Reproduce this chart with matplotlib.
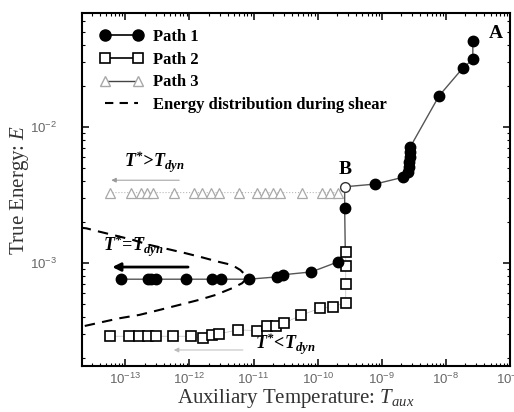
import numpy as np
import matplotlib
matplotlib.use("Agg")
import matplotlib.pyplot as plt
from matplotlib.lines import Line2D
from matplotlib.ticker import LogLocator, NullFormatter

# ── data ─────────────────────────────────────────────────────────────────────

# Path 1 (filled circles): low-T plateau, jump at T~2.6e-10 up to B, then on to A
p1_T = [8.6e-14, 2.22e-13, 2.5e-13, 3.0e-13, 8.7e-13, 2.25e-12, 3.05e-12, 8.4e-12,
        2.3e-11, 2.92e-11, 8.0e-11, 2.08e-10,
        2.64e-10,
        7.87e-10, 2.12e-9, 2.6e-9, 2.65e-9, 2.7e-9, 2.72e-9, 2.75e-9, 2.78e-9,
        7.85e-9, 1.85e-8, 2.64e-8, 2.64e-8]
p1_E = [7.6e-4, 7.6e-4, 7.6e-4, 7.6e-4, 7.6e-4, 7.6e-4, 7.6e-4, 7.6e-4,
        7.9e-4, 8.2e-4, 8.6e-4, 1.02e-3,
        2.52e-3,
        3.81e-3, 4.27e-3, 4.67e-3, 5.08e-3, 5.53e-3, 6.02e-3, 6.55e-3, 7.13e-3,
        1.70e-2, 2.73e-2, 3.15e-2, 4.31e-2]

# joint where path 1 turns upward (hidden under the squares) and the point B
joint_T, joint_E = 2.7e-10, 1.2e-3
B_T, B_E = 2.64e-10, 3.64e-3
A_T, A_E = 2.64e-8, 4.31e-2

# Path 2 (open squares)
p2_T = [5.85e-14, 1.15e-13, 1.61e-13, 2.22e-13, 2.99e-13, 5.54e-13, 1.04e-12,
        1.64e-12, 2.21e-12, 2.86e-12, 5.71e-12, 1.12e-11, 1.61e-11, 2.25e-11,
        3.03e-11, 5.41e-11, 1.08e-10, 1.74e-10, 2.74e-10, 2.74e-10, 2.74e-10,
        2.74e-10]
p2_E = [2.89e-4, 2.89e-4, 2.89e-4, 2.89e-4, 2.89e-4, 2.89e-4, 2.89e-4,
        2.79e-4, 2.93e-4, 3.01e-4, 3.22e-4, 3.18e-4, 3.41e-4, 3.41e-4,
        3.62e-4, 4.11e-4, 4.65e-4, 4.77e-4, 5.11e-4, 6.97e-4, 9.46e-4,
        1.20e-3]

# Path 3 (grey open triangles), flat at E ~ 3.3e-3 ending at B
p3_T = [5.65e-14, 1.22e-13, 1.75e-13, 2.14e-13, 2.65e-13, 5.75e-13, 1.17e-12,
        1.58e-12, 2.13e-12, 2.86e-12, 5.85e-12, 1.12e-11, 1.52e-11, 2.04e-11,
        2.59e-11, 5.61e-11, 1.15e-10, 1.55e-10, 2.08e-10]
p3_E = [3.3e-3] * len(p3_T)

# energy distribution during shear (dashed curve)
dist_T = [2.0e-14, 2.46e-14, 3.95e-14, 6.35e-14, 1.30e-13, 2.35e-13, 4.81e-13,
          8.73e-13, 1.58e-12, 2.86e-12, 4.61e-12, 6.22e-12, 7.43e-12, 7.87e-12,
          6.59e-12, 4.61e-12, 2.55e-12, 1.40e-12, 6.87e-13, 3.37e-13, 1.65e-13,
          8.07e-14, 3.95e-14, 2.31e-14, 2.0e-14]
dist_E = [1.82e-3, 1.80e-3, 1.70e-3, 1.61e-3, 1.48e-3, 1.36e-3, 1.26e-3,
          1.18e-3, 1.10e-3, 1.02e-3, 9.67e-4, 8.88e-4, 8.17e-4, 7.71e-4,
          7.09e-4, 6.52e-4, 5.82e-4, 5.35e-4, 4.91e-4, 4.51e-4, 4.15e-4,
          3.92e-4, 3.64e-4, 3.44e-4, 3.38e-4]

# ── style ────────────────────────────────────────────────────────────────────
plt.rcParams["font.family"] = "Liberation Sans"
plt.rcParams["mathtext.fontset"] = "custom"
plt.rcParams["mathtext.rm"] = "Liberation Serif"
plt.rcParams["mathtext.it"] = "Liberation Serif:italic"
plt.rcParams["mathtext.bf"] = "Liberation Serif:bold"
plt.rcParams["mathtext.sf"] = "Liberation Serif:italic:bold"

SERIF = "Liberation Serif"

fig = plt.figure(figsize=(5.14, 4.12), dpi=100)
ax = fig.add_axes([0.1595, 0.112, 0.8325, 0.856])

# dashed energy distribution
ax.plot(dist_T, dist_E, color="black", lw=1.5, ls=(0, (5, 3.5)), zorder=2)

# path 3
ax.plot(p3_T + [B_T], p3_E + [B_E * 0.93], color="#b8b8b8", lw=0.8, ls=":", zorder=2)
ax.plot(p3_T, p3_E, ls="none", marker="^", ms=6.5, mfc="white", mec="#a8a8a8",
        mew=0.9, zorder=3)

# path 2
ax.plot(p2_T, p2_E, color="#c8c8c8", lw=0.6, zorder=2)
ax.plot(p2_T, p2_E, ls="none", marker="s", ms=7, mfc="white", mec="black",
        mew=1.2, zorder=4)

# path 1: line through the joint and B, markers only on the circles
line_T = p1_T[:12] + [joint_T, p1_T[12], B_T] + p1_T[13:]
line_E = p1_E[:12] + [joint_E, p1_E[12], B_E] + p1_E[13:]
ax.plot(line_T, line_E, color="#555555", lw=1.0, zorder=3)
ax.plot(p1_T, p1_E, ls="none", marker="o", ms=7.5, color="black", zorder=5)
ax.plot([B_T], [B_E], ls="none", marker="o", ms=7, mfc="white", mec="#333333",
        mew=1.0, zorder=5)

# arrows and labels
ax.annotate("", xy=(5.45e-14, 4.07e-3), xytext=(7.65e-13, 4.07e-3),
            arrowprops=dict(arrowstyle="-|>", color="#999999", lw=0.7,
                            mutation_scale=7))
ax.text(9.6e-14, 5.5e-3, r"$\mathsf{T^{*}\!>\!T_{dyn}}$", fontsize=13,
        va="center", ha="left")

ax.annotate("", xy=(5.65e-14, 9.34e-4), xytext=(1.05e-12, 9.34e-4),
            arrowprops=dict(arrowstyle="-|>", color="black", lw=2.0,
                            mutation_scale=12))
ax.text(4.4e-14, 1.32e-3, r"$\mathsf{T^{*}\!=\!T_{dyn}}$", fontsize=13,
        va="center", ha="left")

ax.annotate("", xy=(5.16e-13, 2.29e-4), xytext=(7.52e-12, 2.29e-4),
            arrowprops=dict(arrowstyle="-|>", color="#bbbbbb", lw=0.7,
                            mutation_scale=7))
ax.text(1.07e-11, 2.5e-4, r"$\mathsf{T^{*}\!<\!T_{dyn}}$", fontsize=13,
        va="center", ha="left")

ax.text(4.7e-8, 0.049, "A", family=SERIF, fontweight="bold", fontsize=14,
        ha="left", va="center")
ax.text(2.64e-10, 4.9e-3, "B", family=SERIF, fontweight="bold", fontsize=14,
        ha="center", va="center")

# axes
ax.set_xscale("log")
ax.set_yscale("log")
ax.set_xlim(2.1e-14, 1e-7)
ax.set_ylim(1.75e-4, 0.069)

for a in (ax.xaxis, ax.yaxis):
    a.set_major_locator(LogLocator(base=10, numticks=20))
    a.set_minor_locator(LogLocator(base=10, subs=np.arange(2, 10), numticks=20))
    a.set_minor_formatter(NullFormatter())

ax.tick_params(which="both", direction="in", top=True, right=True,
               colors="black", labelcolor="#666666", labelsize=9.5)
ax.tick_params(which="major", length=5, width=1.1)
ax.tick_params(which="minor", length=2.5, width=0.8)
ax.tick_params(axis="x", pad=4)
ax.tick_params(axis="y", pad=18)
for s in ax.spines.values():
    s.set_linewidth(1.5)

ax.set_xlabel(r"Auxiliary Temperature: $T_{aux}$", family=SERIF, fontsize=15,
              color="#333333", labelpad=0)
ax.set_ylabel(r"True Energy: $E$", family=SERIF, fontsize=15,
              color="#333333")
ax.yaxis.set_label_coords(-0.12, 0.5)

# legend
handles = [
    Line2D([], [], color="black", lw=1.2, marker="o", ms=8),
    Line2D([], [], color="black", lw=1.2, marker="s", ms=7, mfc="white", mew=1.2),
    Line2D([], [], color="#444444", lw=1.0, marker="^", ms=7, mfc="white",
           mec="#a8a8a8"),
    Line2D([], [], color="black", lw=1.5, ls=(0, (4, 3))),
]
labels = ["Path 1", "Path 2", "Path 3", "Energy distribution during shear"]
ax.legend(handles, labels, loc="upper left", bbox_to_anchor=(0.042, 0.955),
          frameon=False, numpoints=2, handlelength=2.6, handletextpad=0.6,
          labelspacing=0.4, borderpad=0, borderaxespad=0,
          prop=dict(family=SERIF, weight="bold", size=12))

fig.savefig("out.png", dpi=100)
